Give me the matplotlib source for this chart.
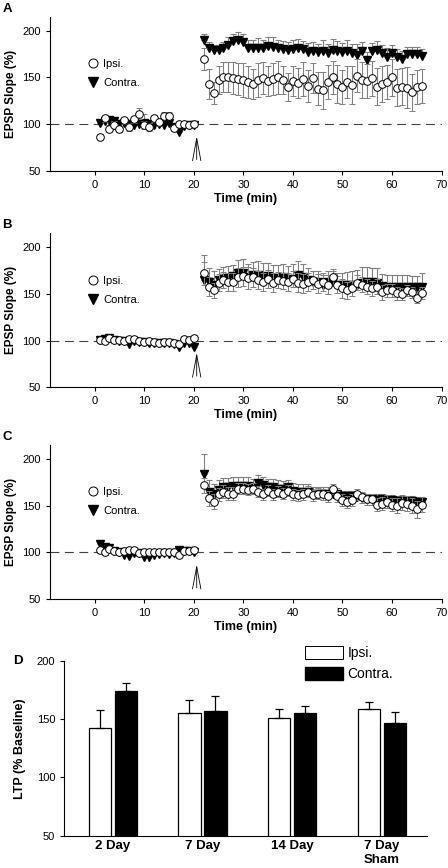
import numpy as np
import matplotlib
matplotlib.use("Agg")
import matplotlib.pyplot as plt
from matplotlib.lines import Line2D
from matplotlib.patches import Patch

plt.rcParams['font.family'] = ['Liberation Sans', 'DejaVu Sans']

# time points (min)
t_base = np.arange(1, 21)
t_post = np.arange(22, 67)

# panel A
A_ipsi_base = [86, 106, 95, 99, 95, 104, 97, 105, 111, 99, 97, 106, 102, 109, 109, 96, 100, 100, 99, 100]
A_ipsi_base_err = [3, 4, 4, 4, 3, 4, 4, 4, 6, 4, 4, 4, 4, 4, 4, 3, 3, 3, 3, 3]
A_contra_base = [101, 103, 104, 103, 100, 101, 100, 99, 100, 101, 100, 99, 100, 99, 101, 97, 92, 98, 99, 99]
A_contra_base_err = [4, 4, 3, 3, 3, 3, 4, 3, 3, 10, 3, 3, 3, 3, 3, 3, 3, 3, 3, 3]
A_ipsi_post = [170, 143, 133, 147, 150, 150, 149, 148, 147, 145, 143, 147, 149, 146, 148,
               150, 147, 140, 146, 144, 148, 141, 149, 138, 136, 145, 150, 143, 140, 145,
               142, 152, 147, 146, 149, 140, 143, 145, 150, 139, 140, 139, 134, 140, 141]
A_ipsi_post_err = [12, 16, 12, 15, 16, 16, 17, 17, 18, 17, 16, 18, 17, 16, 17,
                   18, 15, 15, 16, 16, 18, 17, 16, 18, 20, 18, 18, 20, 18, 17,
                   20, 18, 19, 18, 19, 20, 19, 18, 20, 20, 20, 22, 20, 18, 18]
A_contra_post = [190, 181, 179, 179, 181, 185, 189, 190, 188, 182, 181, 182, 181, 184, 183,
                 181, 180, 179, 180, 182, 180, 177, 178, 177, 178, 176, 179, 178, 177, 178,
                 176, 174, 178, 169, 178, 179, 176, 172, 176, 172, 170, 175, 175, 175, 173]
A_contra_post_err = [6, 7, 6, 6, 7, 8, 8, 9, 9, 8, 9, 10, 9, 9, 10,
                     9, 9, 9, 10, 9, 9, 10, 10, 9, 12, 10, 12, 11, 10, 12,
                     10, 12, 10, 8, 9, 10, 9, 10, 9, 8, 8, 8, 8, 8, 7]

# panel B
B_ipsi_base = [101, 100, 103, 101, 101, 100, 102, 102, 100, 99, 100, 99, 98, 99, 99, 98, 96, 102, 101, 103]
B_ipsi_base_err = [3, 3, 3, 3, 3, 3, 3, 3, 3, 3, 3, 3, 3, 3, 3, 3, 3, 3, 3, 3]
B_contra_base = [101, 102, 103, 101, 100, 100, 96, 100, 99, 99, 98, 97, 97, 98, 97, 96, 93, 97, 97, 93]
B_contra_base_err = [4, 4, 3, 3, 3, 3, 3, 3, 3, 3, 3, 3, 3, 3, 3, 3, 3, 3, 3, 3]
B_ipsi_post = [172, 158, 154, 162, 165, 163, 163, 168, 169, 167, 168, 165, 163, 166, 162,
               165, 164, 163, 166, 162, 161, 163, 165, 161, 163, 160, 168, 160, 156, 154,
               156, 162, 160, 158, 156, 158, 152, 154, 154, 151, 150, 154, 152, 146, 151]
B_ipsi_post_err = [12, 10, 8, 9, 9, 10, 10, 10, 10, 12, 10, 10, 10, 10, 10,
                   9, 9, 10, 9, 10, 10, 10, 10, 10, 10, 10, 9, 9, 10, 9,
                   8, 8, 8, 8, 8, 8, 8, 7, 7, 7, 6, 6, 6, 6, 6]
B_contra_post = [165, 163, 160, 165, 167, 167, 169, 172, 172, 168, 170, 170, 168, 169, 167,
                 167, 168, 166, 166, 170, 168, 165, 163, 163, 160, 163, 163, 160, 160, 160,
                 160, 160, 162, 163, 163, 162, 159, 158, 158, 158, 158, 158, 157, 157, 158]
B_contra_post_err = [27, 15, 15, 12, 12, 13, 12, 14, 16, 14, 14, 15, 15, 14, 14,
                     14, 14, 14, 16, 15, 14, 13, 12, 12, 10, 12, 12, 12, 12, 14,
                     15, 16, 17, 16, 15, 16, 12, 12, 12, 12, 12, 12, 12, 12, 14]

# panel C
C_ipsi_base = [102, 100, 104, 101, 100, 101, 103, 103, 99, 100, 100, 100, 100, 100, 100, 100, 97, 101, 101, 103]
C_ipsi_base_err = [3, 3, 3, 3, 3, 3, 3, 3, 3, 3, 3, 3, 3, 3, 3, 3, 3, 3, 3, 3]
C_contra_base = [109, 106, 105, 101, 100, 97, 96, 99, 99, 95, 95, 97, 98, 99, 98, 99, 103, 101, 101, 100]
C_contra_base_err = [4, 4, 3, 3, 3, 3, 3, 3, 3, 3, 3, 3, 3, 3, 3, 3, 3, 3, 3, 3]
C_ipsi_post = [172, 158, 154, 162, 165, 163, 163, 168, 168, 167, 168, 165, 162, 166, 162,
               165, 163, 166, 162, 161, 162, 165, 161, 163, 162, 160, 168, 160, 156, 154,
               156, 162, 159, 157, 157, 151, 152, 154, 151, 150, 153, 152, 150, 146, 151]
C_ipsi_post_err = [8, 8, 8, 7, 7, 7, 7, 6, 6, 6, 6, 6, 6, 6, 6,
                   6, 6, 6, 6, 6, 6, 6, 6, 6, 6, 6, 5, 6, 6, 6,
                   6, 6, 6, 6, 6, 7, 7, 7, 7, 8, 8, 8, 8, 9, 8]
C_contra_post = [184, 165, 163, 167, 170, 170, 171, 171, 171, 171, 170, 174, 172, 170, 170,
                 168, 168, 170, 166, 165, 165, 165, 163, 163, 163, 163, 162, 162, 160, 160,
                 160, 159, 158, 157, 157, 156, 157, 156, 156, 155, 155, 155, 155, 154, 154]
C_contra_post_err = [21, 12, 10, 10, 10, 10, 10, 10, 10, 10, 9, 9, 9, 9, 9,
                     9, 8, 8, 8, 8, 8, 8, 7, 7, 7, 7, 7, 7, 6, 6,
                     6, 6, 6, 6, 6, 6, 6, 5, 5, 5, 5, 5, 5, 5, 5]

# panel D
groups = ['2 Day', '7 Day', '14 Day', '7 Day\nSham']
D_ipsi = [142, 155, 151, 159]
D_ipsi_err = [16, 11, 8, 6]
D_contra = [174, 157, 155, 147]
D_contra_err = [7, 13, 6, 9]

fig = plt.figure(figsize=(4.48, 8.68), dpi=100)

panels = [
    ('A', 0.8033, A_ipsi_base, A_ipsi_base_err, A_contra_base, A_contra_base_err,
     A_ipsi_post, A_ipsi_post_err, A_contra_post, A_contra_post_err),
    ('B', 0.5538, B_ipsi_base, B_ipsi_base_err, B_contra_base, B_contra_base_err,
     B_ipsi_post, B_ipsi_post_err, B_contra_post, B_contra_post_err),
    ('C', 0.3099, C_ipsi_base, C_ipsi_base_err, C_contra_base, C_contra_base_err,
     C_ipsi_post, C_ipsi_post_err, C_contra_post, C_contra_post_err),
]

ecol = '0.5'
for (letter, bottom, ib, ibe, cb, cbe, ip, ipe, cp, cpe) in panels:
    ax = fig.add_axes([0.1116, bottom, 0.874, 0.1774])
    ax.axhline(100, color='0.25', lw=0.8, dashes=(8, 5), zorder=1)
    t_all = np.concatenate([t_base, t_post])
    c_all = np.concatenate([cb, cp])
    c_err = np.concatenate([cbe, cpe])
    i_all = np.concatenate([ib, ip])
    i_err = np.concatenate([ibe, ipe])
    ax.errorbar(t_all, c_all, yerr=[np.zeros_like(c_err), c_err], fmt='v', color='black',
                ms=5.5, ecolor=ecol, elinewidth=0.8, capsize=2, capthick=0.8, zorder=3)
    ax.errorbar(t_all, i_all, yerr=i_err, fmt='o', mfc='white', mec='black', mew=0.7,
                ms=5.5, ecolor=ecol, elinewidth=0.8, capsize=2, capthick=0.8, zorder=4)
    ax.annotate('', xy=(20.6, 90), xytext=(20.6, 59),
                arrowprops=dict(arrowstyle='->,head_length=1.6,head_width=0.3',
                                lw=0.6, color='black'))
    ax.set_xlim(-9, 70)
    ax.set_ylim(50, 215)
    ax.set_xticks(range(0, 71, 10))
    ax.set_yticks([50, 100, 150, 200])
    ax.tick_params(labelsize=8, length=3, width=0.8)
    for s in ['top', 'right']:
        ax.spines[s].set_visible(False)
    ax.set_xlabel('Time (min)', fontsize=9, fontweight='bold', labelpad=2)
    ax.set_ylabel('EPSP Slope (%)', fontsize=8.5, fontweight='bold', labelpad=4)
    handles = [Line2D([], [], marker='o', ls='', mfc='white', mec='black', mew=0.7, ms=6.5),
               Line2D([], [], marker='v', ls='', color='black', ms=6.5)]
    ax.legend(handles, ['Ipsi.', 'Contra.'], loc='upper left', bbox_to_anchor=(0.07, 0.79),
              frameon=False, fontsize=8, handlelength=1, handletextpad=0.4, labelspacing=0.8)
    fig.text(0.005, bottom + 0.1774 + 0.006, letter, fontsize=9.5, fontweight='bold')

# panel D bar chart
axd = fig.add_axes([0.1435, 0.0372, 0.809, 0.2016])
x = np.arange(len(groups))
w = 0.25
ekw = dict(ecolor='black', elinewidth=0.9, capsize=3, capthick=0.9)
axd.bar(x - 0.145, D_ipsi, w, color='white', edgecolor='black', lw=0.9,
        yerr=[[0] * 4, D_ipsi_err], error_kw=ekw)
axd.bar(x + 0.145, D_contra, w, color='black', edgecolor='black', lw=0.9,
        yerr=[[0] * 4, D_contra_err], error_kw=ekw)
axd.set_xlim(-0.54, 3.5)
axd.set_ylim(50, 200)
axd.set_yticks([50, 100, 150, 200])
axd.set_xticks(x)
axd.set_xticklabels(groups, fontsize=9.5, fontweight='bold')
axd.tick_params(axis='x', length=0, pad=3)
axd.tick_params(axis='y', labelsize=8, length=3, width=0.8)
for s in ['top', 'right']:
    axd.spines[s].set_visible(False)
axd.set_ylabel('LTP (% Baseline)', fontsize=9, fontweight='bold', labelpad=8)
leg_handles = [Patch(facecolor='white', edgecolor='black', lw=0.7),
               Patch(facecolor='black', edgecolor='black')]
fig.legend(leg_handles, ['Ipsi.', 'Contra.'], loc='upper left', bbox_to_anchor=(0.652, 0.27),
           frameon=False, fontsize=10, handlelength=2.8, handleheight=1.0,
           handletextpad=0.3, labelspacing=0.5)
fig.text(0.03, 0.235, 'D', fontsize=9.5, fontweight='bold')

fig.savefig('out.png', dpi=100)
